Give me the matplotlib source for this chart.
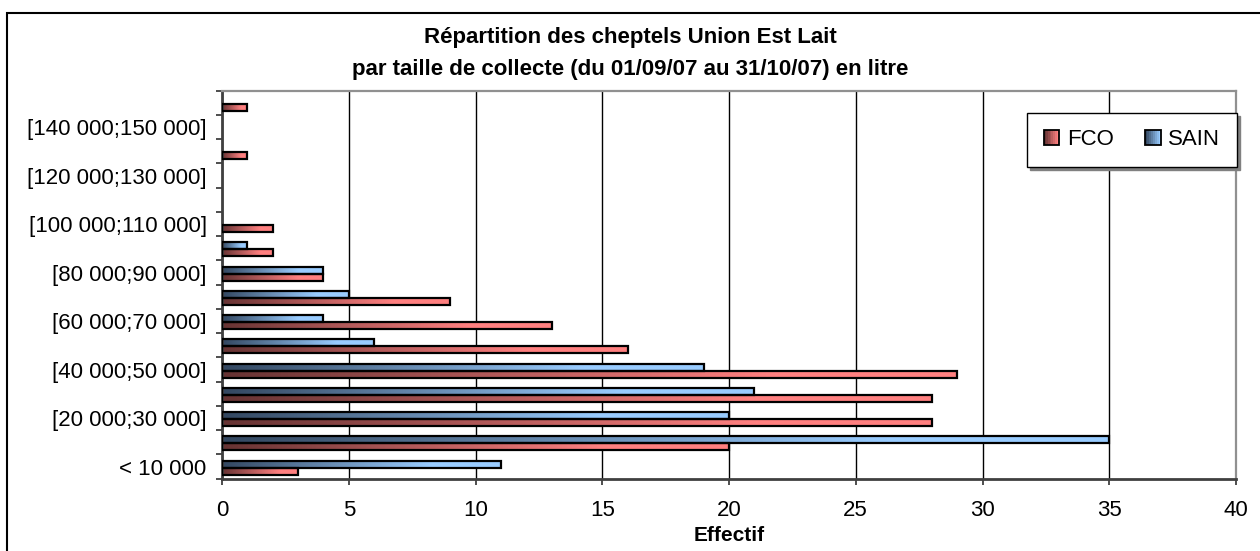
import numpy as np
import matplotlib
matplotlib.use("Agg")
import matplotlib.pyplot as plt
from matplotlib.patches import Rectangle, Patch
from matplotlib.legend_handler import HandlerBase
from matplotlib.colors import LinearSegmentedColormap, to_rgb

plt.rcParams["font.family"] = ["Liberation Sans", "DejaVu Sans"]

# classes de collecte (litres), de bas en haut
classes = ["< 10 000", "[10 000;20 000]", "[20 000;30 000]", "[30 000;40 000]",
           "[40 000;50 000]", "[50 000;60 000]", "[60 000;70 000]", "[70 000;80 000]",
           "[80 000;90 000]", "[90 000;100 000]", "[100 000;110 000]", "[110 000;120 000]",
           "[120 000;130 000]", "[130 000;140 000]", "[140 000;150 000]", "> 150 000"]
fco = [3, 20, 28, 28, 29, 16, 13, 9, 4, 2, 2, 0, 0, 1, 0, 1]
sain = [11, 35, 20, 21, 19, 6, 4, 5, 4, 1, 0, 0, 0, 0, 0, 0]
xticks = [0, 5, 10, 15, 20, 25, 30, 35, 40]

fco_dark, fco_light = "#663333", "#ff8080"
sain_dark, sain_light = "#334760", "#99ccff"


def grad_cmap(dark, light):
    return LinearSegmentedColormap.from_list("g", [(0, dark), (0.75, light), (1, light)])


def fill_gradient(ax, bars, dark, light):
    cmap = grad_cmap(dark, light)
    ramp = np.linspace(0, 1, 256).reshape(1, -1)
    for b in bars:
        w = b.get_width()
        if w <= 0:
            b.set_visible(False)
            continue
        x0, y0, h = b.get_x(), b.get_y(), b.get_height()
        im = ax.imshow(ramp, cmap=cmap, aspect="auto", extent=[x0, x0 + w, y0, y0 + h],
                       origin="lower", zorder=2, interpolation="bilinear")
        im.set_clip_path(b)
        b.set_facecolor("none")


class GradientHandler(HandlerBase):
    def __init__(self, dark, light):
        super().__init__()
        self.dark = np.array(to_rgb(dark))
        self.light = np.array(to_rgb(light))

    def create_artists(self, legend, orig_handle, xdescent, ydescent, width, height, fontsize, trans):
        arts = []
        n = 8
        for i in range(n):
            t = i / (n - 1)
            c = self.dark * (1 - t) + self.light * t
            arts.append(Rectangle((-xdescent + i * width / n, -ydescent), width / n, height,
                                  facecolor=c, edgecolor="none", transform=trans))
        arts.append(Rectangle((-xdescent, -ydescent), width, height, facecolor="none",
                              edgecolor="black", lw=1.3, transform=trans))
        return arts


fig = plt.figure(figsize=(12.6, 5.51), dpi=100)
ax = fig.add_axes([222 / 1260, 1 - 478.7 / 551, (1236 - 222) / 1260, (478.7 - 90.7) / 551])

y = np.arange(len(classes))
h = 0.29
b_sain = ax.barh(y + 0.10, sain, height=h, edgecolor="black", linewidth=1.6, zorder=3)
b_fco = ax.barh(y - 0.19, fco, height=h, edgecolor="black", linewidth=1.6, zorder=3)
fill_gradient(ax, b_sain, sain_dark, sain_light)
fill_gradient(ax, b_fco, fco_dark, fco_light)

ax.set_xlim(0, 40)
ax.set_ylim(-0.5, len(classes) - 0.5)
ax.set_xticks(xticks)
ax.set_xticklabels([str(v) for v in xticks], fontsize=16)
ax.tick_params(axis="x", direction="out", length=4.5, width=1.3, color="#404040", pad=11)
ax.grid(axis="x", color="black", linewidth=1.0, zorder=0)
ax.set_axisbelow(True)

# graduations aux bornes des classes, libellés une classe sur deux
ax.set_yticks(np.arange(-0.5, len(classes), 1.0))
ax.set_yticklabels([])
ax.tick_params(axis="y", which="major", direction="out", length=4.5, width=1.3, color="#404040")
ax.set_yticks(y[::2], minor=True)
ax.set_yticklabels(classes[::2], minor=True, fontsize=16)
ax.tick_params(axis="y", which="minor", length=0, pad=11)

for s in ["left", "bottom"]:
    ax.spines[s].set_color("#404040")
    ax.spines[s].set_linewidth(2.0)
for s in ["top", "right"]:
    ax.spines[s].set_color("#909090")
    ax.spines[s].set_linewidth(1.6)

ax.set_xlabel("Effectif", fontsize=15, fontweight="bold", labelpad=3.5)

fig.text(0.5, 1 - 53.5 / 551,
         "Répartition des cheptels Union Est Lait\npar taille de collecte (du 01/09/07 au 31/10/07) en litre",
         ha="center", va="center", fontsize=16, fontweight="bold", linespacing=1.7)

h_fco = Patch(label="FCO")
h_sain = Patch(label="SAIN")
leg = fig.legend(handles=[h_fco, h_sain], loc="center", ncol=2, mode="expand",
                 bbox_to_anchor=(1027 / 1260, 1 - 169 / 551, 210 / 1260, 58 / 551),
                 handler_map={h_fco: GradientHandler(fco_dark, fco_light),
                              h_sain: GradientHandler(sain_dark, sain_light)},
                 fontsize=16, frameon=True, fancybox=False, shadow={"color": "#808080", "alpha": 1},
                 borderpad=0.75, handlelength=0.7, handleheight=0.7, handletextpad=0.35,
                 borderaxespad=0)
leg.get_frame().set_edgecolor("black")
leg.get_frame().set_linewidth(1.0)
leg.get_frame().set_alpha(1)

# cadre de la zone de graphique
fig.patches.append(Rectangle((7 / 1260, -0.1), 1.2, 1.1 - 13 / 551, transform=fig.transFigure,
                             facecolor="none", edgecolor="black", linewidth=1.5))

fig.savefig("out.png", dpi=100)
